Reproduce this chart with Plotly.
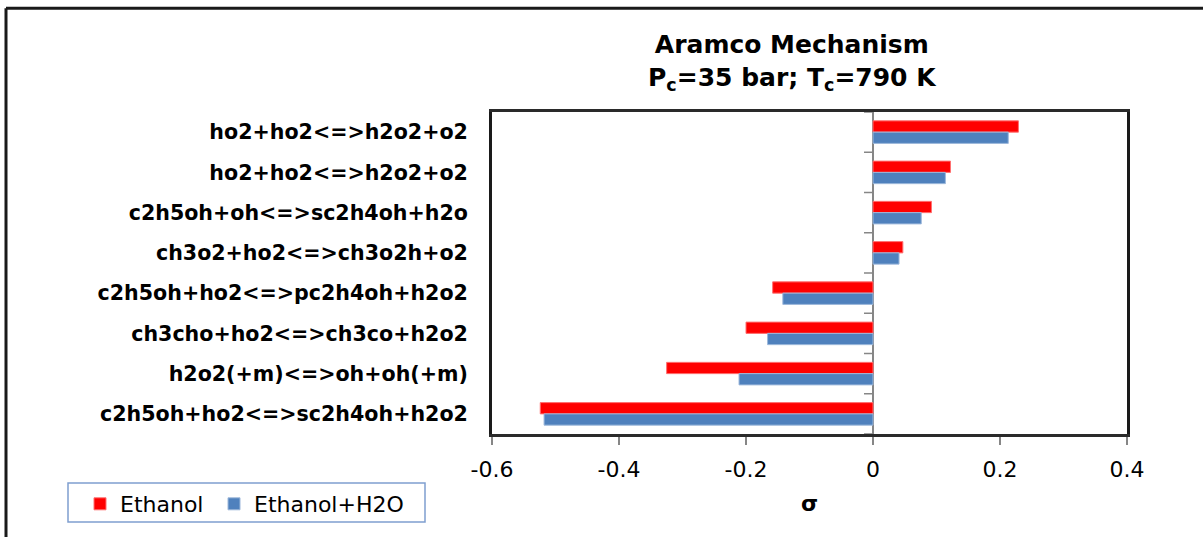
import plotly.graph_objects as go

# Sensitivity coefficients, listed top to bottom
reactions = [
    "ho2+ho2<=>h2o2+o2",
    "ho2+ho2<=>h2o2+o2",
    "c2h5oh+oh<=>sc2h4oh+h2o",
    "ch3o2+ho2<=>ch3o2h+o2",
    "c2h5oh+ho2<=>pc2h4oh+h2o2",
    "ch3cho+ho2<=>ch3co+h2o2",
    "h2o2(+m)<=>oh+oh(+m)",
    "c2h5oh+ho2<=>sc2h4oh+h2o2",
]
ethanol = [0.229, 0.122, 0.092, 0.047, -0.158, -0.200, -0.325, -0.524]
ethanol_h2o = [0.213, 0.114, 0.076, 0.041, -0.142, -0.166, -0.211, -0.518]
x_ticks = [-0.6, -0.4, -0.2, 0, 0.2, 0.4]
x_tick_text = ["-0.6", "-0.4", "-0.2", "0", "0.2", "0.4"]

W, H = 1203, 537
L, R, T, B = 492, 1127, 112, 434  # plot area in pixels


def px(x):
    return (x - L) / (R - L)


def py(y):
    return 1 - (y - T) / (B - T)


FONT = "DejaVu Sans"
pos = list(range(len(reactions)))

fig = go.Figure()
fig.add_trace(go.Bar(
    y=pos, x=ethanol, orientation="h", name="Ethanol", legend="legend",
    marker=dict(color="#FF0000", line=dict(color="#FF7070", width=1)),
))
fig.add_trace(go.Bar(
    y=pos, x=ethanol_h2o, orientation="h", name="Ethanol+H2O", legend="legend2",
    marker=dict(color="#4F81BD", line=dict(color="#9DB8DB", width=1)),
))

shapes = []
# short category tick marks to the left of the zero line
for i in range(len(reactions) + 1):
    shapes.append(dict(
        type="line", xref="x", yref="y", xsizemode="pixel", xanchor=0,
        x0=-9, x1=0, y0=i - 0.5, y1=i - 0.5,
        line=dict(color="#868686", width=1.5), layer="above",
    ))
# outer chart frame (top and left edges)
shapes.append(dict(type="line", xref="paper", yref="paper",
                   x0=px(6), x1=px(1210), y0=py(8.3), y1=py(8.3),
                   line=dict(color="#1a1a1a", width=3)))
shapes.append(dict(type="line", xref="paper", yref="paper",
                   x0=px(6), x1=px(6), y0=py(8.3), y1=py(545),
                   line=dict(color="#1a1a1a", width=3)))
# legend box
shapes.append(dict(type="rect", xref="paper", yref="paper",
                   x0=px(68), x1=px(425), y0=py(483), y1=py(522),
                   line=dict(color="#7F9FD0", width=1.5), fillcolor="white",
                   layer="below"))

legend_style = dict(
    orientation="h", y=py(483), xanchor="left", yanchor="top",
    borderwidth=0, bgcolor="rgba(0,0,0,0)",
    font=dict(family=FONT, size=22, color="black"),
)

fig.update_layout(
    width=W, height=H,
    margin=dict(l=L, r=W - R, t=T, b=H - B),
    paper_bgcolor="white", plot_bgcolor="white",
    barmode="group", bargap=0.44, bargroupgap=0,
    font=dict(family=FONT, color="black"),
    showlegend=True,
    legend=dict(x=px(80), **legend_style),
    legend2=dict(x=px(214), **legend_style),
    shapes=shapes,
    annotations=[dict(
        xref="paper", yref="paper", x=px(792), y=py(62), xanchor="center",
        yanchor="middle", showarrow=False,
        text="<b>Aramco Mechanism</b><br><b>P<sub>c</sub>=35 bar; T<sub>c</sub>=790 K</b>",
        font=dict(family=FONT, size=25, color="black"),
    )],
)
fig.update_xaxes(
    range=[-0.6, 0.4], tickvals=x_ticks, ticktext=x_tick_text,
    showgrid=False, zeroline=True, zerolinecolor="#868686", zerolinewidth=1.5,
    showline=True, linecolor="#2a2a2a", linewidth=2.5, mirror=True,
    ticks="outside", ticklen=8, tickcolor="#868686", tickwidth=1.5,
    tickfont=dict(family=FONT, size=22, color="black"),
    ticklabelstandoff=6,
    title=dict(text="<b>σ</b>", font=dict(family=FONT, size=22, color="black"),
               standoff=15),
)
fig.update_yaxes(
    range=[len(reactions) - 0.5, -0.5], tickvals=pos, ticktext=reactions,
    showgrid=False, zeroline=False,
    showline=True, linecolor="#1a1a1a", linewidth=3, mirror=True,
    ticks="", tickfont=dict(family=FONT, size=20.6, color="black", weight="bold"),
    ticklabelstandoff=17,
)

fig.write_html("out.html")
